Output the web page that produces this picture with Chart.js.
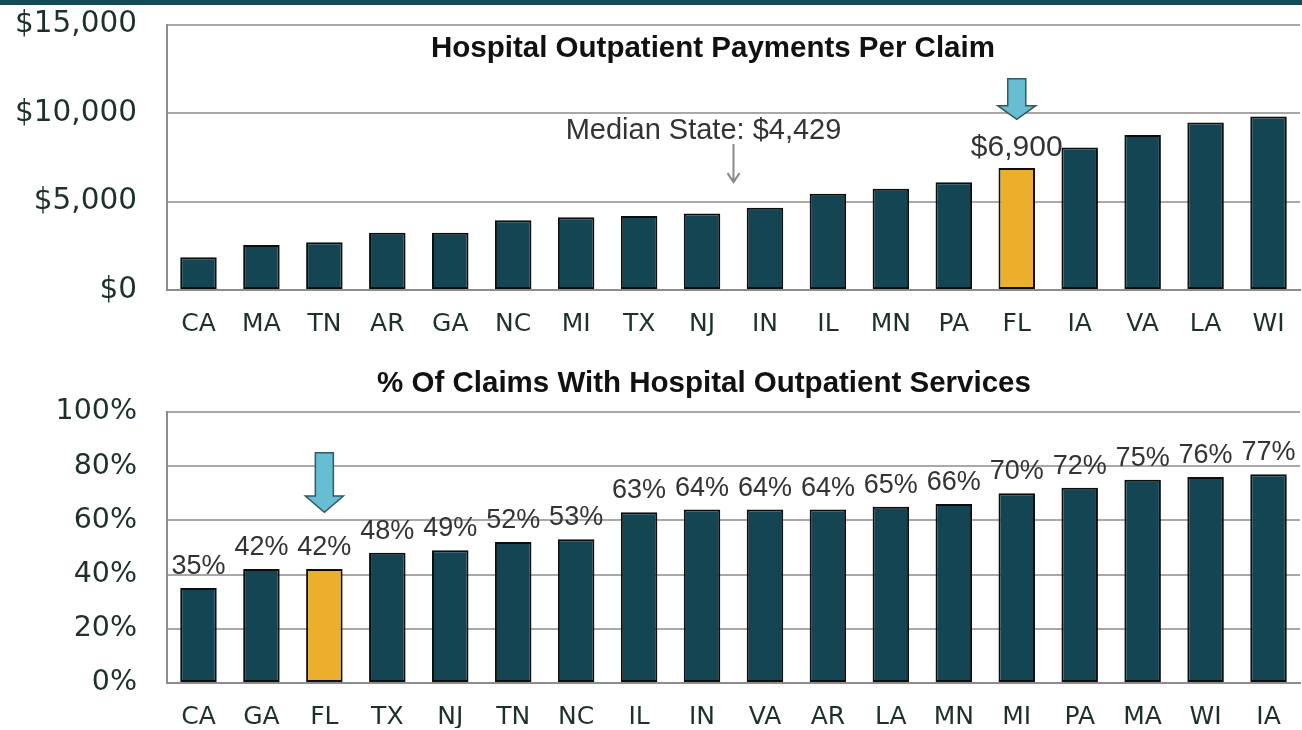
<!DOCTYPE html>
<html>
<head>
<meta charset="utf-8">
<script src="https://cdn.jsdelivr.net/npm/chart.js@4.4.1/dist/chart.umd.min.js"></script>
<style>
  html, body { margin: 0; padding: 0; background: #fff; }
  #wrap { position: relative; width: 1302px; height: 730px; overflow: hidden; }
  #band { position: absolute; left: 0; top: 0; width: 1302px; height: 5px; background: #134a55; z-index: 2; }
  #c1 { position: absolute; left: 0; top: -23px; }
  #c2 { position: absolute; left: 0; top: 350px; }
</style>
</head>
<body>
<div id="wrap">
  <div id="band"></div>
  <canvas id="c1" width="1302" height="373"></canvas>
  <canvas id="c2" width="1302" height="380"></canvas>
</div>
<script>
// top chart: payments per claim
const payStates = ['CA', 'MA', 'TN', 'AR', 'GA', 'NC', 'MI', 'TX', 'NJ', 'IN', 'IL', 'MN', 'PA', 'FL', 'IA', 'VA', 'LA', 'WI'];
const payValues = [1850, 2550, 2700, 3230, 3230, 3950, 4120, 4190, 4320, 4650, 5440, 5720, 6090, 6900, 8060, 8760, 9470, 9810];
const payTicks = [0, 5000, 10000, 15000];
const medianValue = 4429;

// bottom chart: share of claims
const shareStates = ['CA', 'GA', 'FL', 'TX', 'NJ', 'TN', 'NC', 'IL', 'IN', 'VA', 'AR', 'LA', 'MN', 'MI', 'PA', 'MA', 'WI', 'IA'];
const shareValues = [35, 42, 42, 48, 49, 52, 53, 63, 64, 64, 64, 65, 66, 70, 72, 75, 76, 77];
const shareTicks = [0, 20, 40, 60, 80, 100];

const focusState = 'FL';
const barColor = '#134652';
const focusColor = '#ebaf2b';
const tickColor = '#1d302b';
const gridColor = '#a8a8a8';

function colorsFor(states) {
    return states.map(s => s === focusState ? focusColor : barColor);
}

// title inside the plot, value labels, arrows
const overlay = {
    id: 'overlay',
    afterDatasetsDraw(chart, args, opts) {
        const ctx = chart.ctx;
        const x = chart.scales.x, y = chart.scales.y;
        const bars = chart.getDatasetMeta(0).data;
        const labels = chart.data.labels;
        ctx.save();

        // title
        ctx.font = 'bold 29.5px "Liberation Sans", Arial, sans-serif';
        ctx.fillStyle = '#111';
        ctx.textAlign = 'center';
        ctx.textBaseline = 'middle';
        ctx.fillText(opts.title, opts.titleX, opts.titleY);

        // value labels
        ctx.font = opts.labelFont;
        ctx.fillStyle = '#333';
        ctx.textBaseline = 'alphabetic';
        bars.forEach((bar, i) => {
            if (opts.onlyFocus && labels[i] !== focusState) return;
            const v = chart.data.datasets[0].data[i];
            ctx.fillText(opts.format(v), bar.x, bar.y - opts.labelGap);
        });

        // blue arrow over the focus bar
        const fi = labels.indexOf(focusState);
        const ax = x.getPixelForValue(fi);
        const yTail = y.getPixelForValue(opts.arrow[0]);
        const yHead = y.getPixelForValue(opts.arrow[1]);
        const yTip = y.getPixelForValue(opts.arrow[2]);
        ctx.beginPath();
        ctx.moveTo(ax - 9, yTail);
        ctx.lineTo(ax + 9, yTail);
        ctx.lineTo(ax + 9, yHead);
        ctx.lineTo(ax + 19, yHead);
        ctx.lineTo(ax, yTip);
        ctx.lineTo(ax - 19, yHead);
        ctx.lineTo(ax - 9, yHead);
        ctx.closePath();
        ctx.fillStyle = '#67bdd1';
        ctx.fill();
        ctx.lineWidth = 1.5;
        ctx.strokeStyle = '#2f5963';
        ctx.stroke();

        // median note
        if (opts.median) {
            const m = opts.median;
            const mx = x.getPixelForValue(m.index);
            ctx.font = '29px "Liberation Sans", Arial, sans-serif';
            ctx.fillStyle = '#333';
            ctx.textBaseline = 'alphabetic';
            ctx.fillText('Median State: $' + m.value.toLocaleString('en-US'), mx - 30, y.getPixelForValue(m.textAt));
            const y0 = y.getPixelForValue(m.from), y1 = y.getPixelForValue(m.to);
            ctx.strokeStyle = '#8a8a8a';
            ctx.lineWidth = 2;
            ctx.beginPath();
            ctx.moveTo(mx, y0);
            ctx.lineTo(mx, y1);
            ctx.moveTo(mx - 6, y1 - 9);
            ctx.lineTo(mx, y1);
            ctx.lineTo(mx + 6, y1 - 9);
            ctx.stroke();
        }
        ctx.restore();
    }
};

function makeChart(id, states, values, ticks, opts) {
    return new Chart(document.getElementById(id), {
        type: 'bar',
        data: {
            labels: states,
            datasets: [{
                data: values,
                backgroundColor: colorsFor(states),
                borderColor: '#0d0d0d',
                borderWidth: 2,
                borderSkipped: false,
                categoryPercentage: 1,
                barPercentage: 0.58
            }]
        },
        options: {
            responsive: false,
            animation: false,
            layout: { padding: opts.padding },
            plugins: {
                legend: { display: false },
                tooltip: { enabled: false },
                overlay: opts.overlay
            },
            scales: {
                x: {
                    grid: { display: false },
                    border: { color: '#8c8c8c', width: 2 },
                    ticks: {
                        color: tickColor,
                        font: { family: '"DejaVu Sans", sans-serif', size: 25 },
                        padding: opts.xPad,
                        maxRotation: 0
                    },
                    afterFit: s => { s.height = opts.xHeight; }
                },
                y: {
                    min: ticks[0],
                    max: ticks[ticks.length - 1],
                    afterBuildTicks: s => { s.ticks = ticks.map(v => ({ value: v })); },
                    grid: { color: gridColor, lineWidth: 2, drawTicks: false },
                    border: { color: '#8c8c8c', width: 2 },
                    ticks: {
                        color: tickColor,
                        font: { family: '"DejaVu Sans", sans-serif', size: opts.yFont },
                        padding: 30,
                        callback: opts.tickFormat
                    },
                    afterFit: s => { s.width = 167; }
                }
            }
        },
        plugins: [overlay]
    });
}

makeChart('c1', payStates, payValues, payTicks, {
    padding: { top: 2, left: 0, right: 2, bottom: 2 },
    xHeight: 58,
    xPad: 11,
    yFont: 29.5,
    tickFormat: v => '$' + v.toLocaleString('en-US'),
    overlay: {
        title: 'Hospital Outpatient Payments Per Claim',
        titleX: 713, titleY: 72,
        labelFont: '30px "Liberation Sans", Arial, sans-serif',
        labelGap: 12,
        onlyFocus: true,
        format: v => '$' + v.toLocaleString('en-US'),
        arrow: [11950, 10420, 9650],
        median: { index: 8.5, value: medianValue, textAt: 8550, from: 8250, to: 6100 }
    }
});

makeChart('c2', shareStates, shareValues, shareTicks, {
    padding: { top: 62, left: 0, right: 2, bottom: 2 },
    xHeight: 45,
    xPad: 12,
    yFont: 28.5,
    tickFormat: v => v + '%',
    overlay: {
        title: '% Of Claims With Hospital Outpatient Services',
        titleX: 704, titleY: 34,
        labelFont: '27px "Liberation Sans", Arial, sans-serif',
        labelGap: 14,
        onlyFocus: false,
        format: v => v + '%',
        arrow: [85, 69, 63]
    }
});
</script>
</body>
</html>
